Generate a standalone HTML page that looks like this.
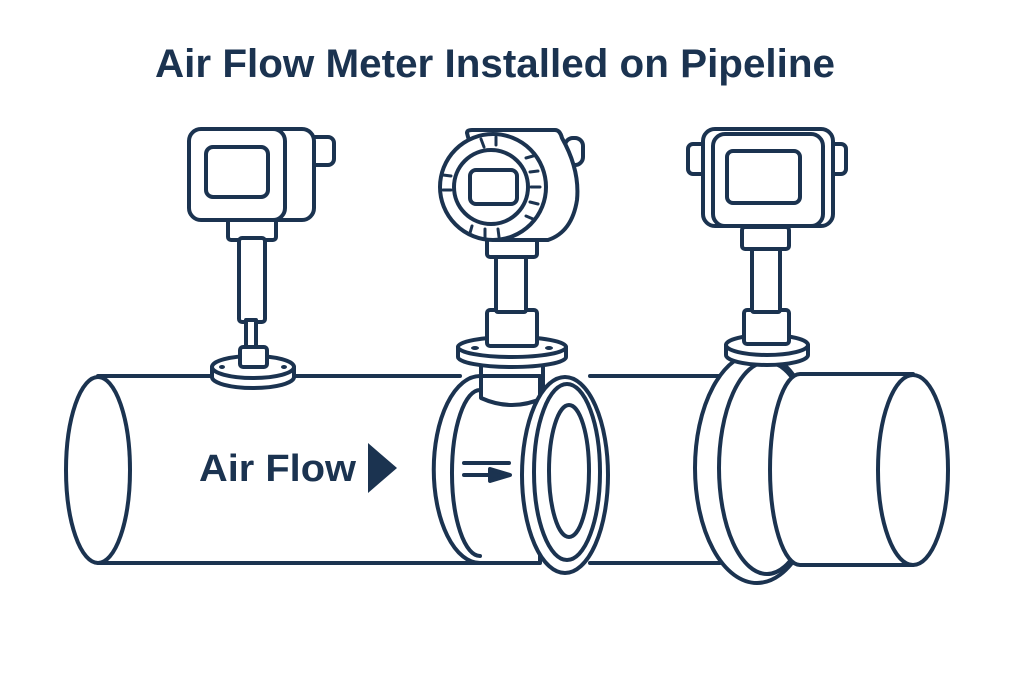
<!DOCTYPE html>
<html><head><meta charset="utf-8"><style>
html,body{margin:0;padding:0;background:#fff;}
svg{display:block;}
</style></head><body>
<svg width="1024" height="683" viewBox="0 0 1024 683" xmlns="http://www.w3.org/2000/svg">
<rect width="1024" height="683" fill="#fff"/>
<text x="155" y="77" font-family="Liberation Sans, sans-serif" font-weight="bold" font-size="40" fill="#1b3350" textLength="680" lengthAdjust="spacingAndGlyphs">Air Flow Meter Installed on Pipeline</text>
<g fill="#fff" stroke="#1b3350" stroke-width="4" stroke-linejoin="round" stroke-linecap="round">
<!-- left pipe -->
<path d="M98 376 L470 376 L470 563 L98 563 Z" stroke="none"/>
<line x1="98" y1="376" x2="460" y2="376"/>
<line x1="98" y1="563" x2="500" y2="563"/>
<ellipse cx="98" cy="470" rx="32" ry="93"/>
<!-- middle pipe -->
<rect x="590" y="376" width="130" height="187" stroke="none"/>
<line x1="590" y1="376" x2="720" y2="376"/>
<line x1="590" y1="563" x2="720" y2="563"/>

<!-- meter 1 -->
<rect x="228" y="218" width="48" height="22" rx="3"/>
<rect x="239" y="238" width="26" height="84" rx="3"/>
<rect x="246" y="320" width="10" height="30"/>
<path d="M212 367 L212 377 A41 11 0 0 0 294 377 L294 367 Z"/>
<ellipse cx="253" cy="367" rx="41" ry="11"/>
<rect x="240" y="347" width="27" height="20" rx="3"/>
<ellipse cx="222" cy="367" rx="3" ry="2" fill="#1b3350" stroke="none"/>
<ellipse cx="284" cy="367" rx="3" ry="2" fill="#1b3350" stroke="none"/>
<rect x="300" y="137" width="34" height="28" rx="6"/>
<rect x="240" y="129" width="74" height="91" rx="12"/>
<rect x="189" y="129" width="96" height="91" rx="12"/>
<rect x="206" y="147" width="62" height="50" rx="7"/>

<!-- meter 2 -->
<rect x="481" y="355" width="62" height="45" rx="4"/>
<path d="M480 376 A46 93 0 0 0 480 563 L540 563 L540 376 Z"/>
<path d="M480 390 A27 80 0 0 0 480 556"/>
<path d="M481 378 L481 398 Q512 412 543 398 L543 378" fill="none"/>
<path d="M458 347 L458 357 A54 10 0 0 0 566 357 L566 347 Z"/>
<ellipse cx="512" cy="347" rx="54" ry="10"/>
<rect x="487" y="310" width="50" height="36" rx="3"/>
<ellipse cx="475" cy="348" rx="4" ry="2" fill="#1b3350" stroke="none"/>
<ellipse cx="549" cy="348" rx="4" ry="2" fill="#1b3350" stroke="none"/>
<rect x="496" y="255" width="30" height="57" rx="2"/>
<rect x="487" y="238" width="50" height="19" rx="3"/>
<line x1="464" y1="463" x2="509" y2="463"/>
<line x1="464" y1="475" x2="495" y2="475"/>
<path d="M490 469 L510 475 L490 481 Z" fill="#1b3350"/>
<ellipse cx="565" cy="475" rx="43" ry="98"/>
<ellipse cx="567" cy="472" rx="33" ry="88"/>
<ellipse cx="569" cy="471" rx="20" ry="66"/>
<!-- head 2 -->
<rect x="565" y="138" width="18" height="27" rx="8"/>
<path d="M467 133 Q467 130 472 130 L555 130 Q560 130 562 138 Q580 170 577 200 Q572 232 548 240 L495 240 Z"/>
<circle cx="493" cy="187" r="53"/>
<circle cx="491" cy="187" r="37"/>
<rect x="470" y="170" width="47" height="34" rx="6"/>
<g stroke-width="3">
<line x1="481" y1="139" x2="484" y2="147"/><line x1="496" y1="137" x2="496" y2="145"/>
<line x1="526" y1="158" x2="533" y2="156"/><line x1="530" y1="172" x2="538" y2="171"/>
<line x1="531" y1="187" x2="540" y2="187"/><line x1="530" y1="202" x2="538" y2="204"/>
<line x1="526" y1="216" x2="533" y2="219"/><line x1="472" y1="226" x2="470" y2="233"/>
<line x1="485" y1="229" x2="485" y2="237"/><line x1="498" y1="229" x2="499" y2="237"/>
<line x1="451" y1="176" x2="443" y2="175"/><line x1="451" y1="190" x2="443" y2="190"/>
</g>

<!-- meter 3 -->
<ellipse cx="757" cy="468" rx="62" ry="115"/>
<ellipse cx="767" cy="468" rx="48" ry="106"/>
<path d="M800 374 L913 374 L913 565 L800 565 A30 95.5 0 0 1 800 374 Z"/>
<ellipse cx="913" cy="470" rx="35" ry="95"/>
<path d="M726 345 L726 355 A41 10 0 0 0 808 355 L808 345 Z"/>
<ellipse cx="767" cy="345" rx="41" ry="10"/>
<rect x="744" y="310" width="45" height="34" rx="3"/>
<rect x="752" y="247" width="28" height="65" rx="2"/>
<rect x="742" y="227" width="47" height="22" rx="3"/>
<rect x="688" y="144" width="20" height="30" rx="5"/>
<rect x="826" y="144" width="20" height="30" rx="5"/>
<rect x="703" y="129" width="130" height="97" rx="12"/>
<rect x="713" y="134" width="110" height="92" rx="12"/>
<rect x="727" y="151" width="73" height="52" rx="6"/>
</g>
<text x="199" y="481" font-family="Liberation Sans, sans-serif" font-weight="bold" font-size="38" fill="#1b3350" textLength="157" lengthAdjust="spacingAndGlyphs">Air Flow</text>
<path d="M368 443 L397 468 L368 493 Z" fill="#1b3350"/>
</svg>
</body></html>
